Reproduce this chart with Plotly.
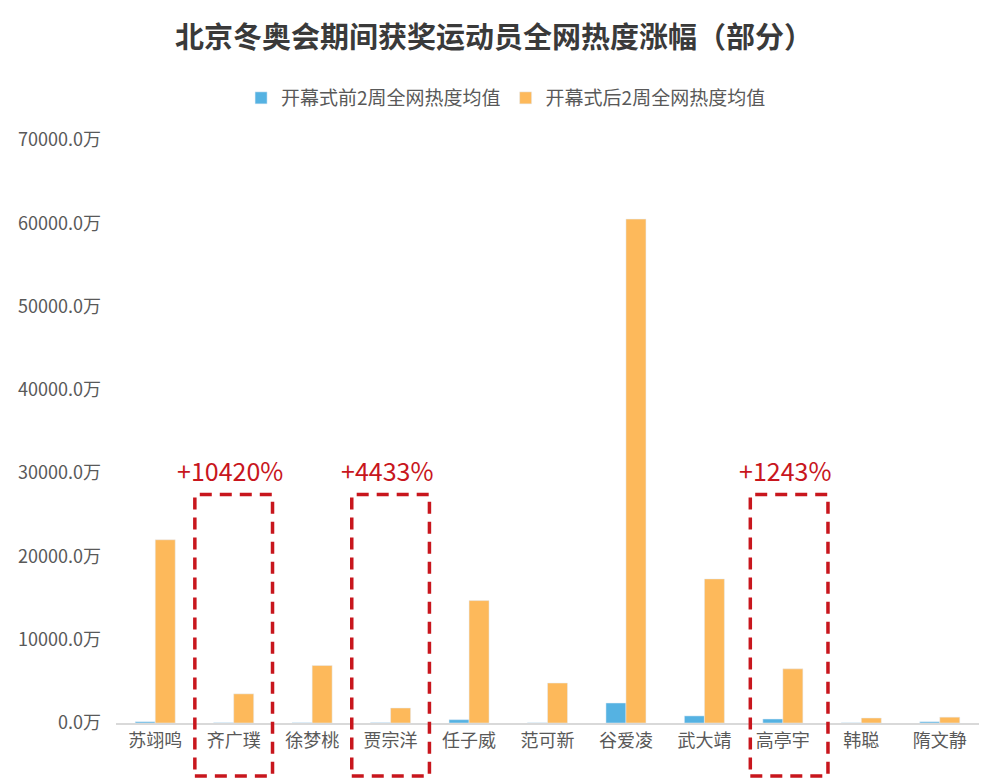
import plotly.graph_objects as go

athletes = ["苏翊鸣", "齐广璞", "徐梦桃", "贾宗洋", "任子威", "范可新", "谷爱凌", "武大靖", "高亭宇", "韩聪", "隋文静"]
before = [150, 33, 30, 40, 400, 20, 2400, 850, 480, 20, 150]
after = [22000, 3500, 6900, 1800, 14700, 4800, 60500, 17300, 6500, 600, 700]
series_names = ["开幕式前2周全网热度均值", "开幕式后2周全网热度均值"]
highlight_names = ["齐广璞", "贾宗洋", "高亭宇"]
highlight_labels = ["+10420%", "+4433%", "+1243%"]
y_ticks = [0, 10000, 20000, 30000, 40000, 50000, 60000, 70000]
y_ticktext = [f"{v:.1f}万" for v in y_ticks]

FONT = "Noto Sans CJK SC"
GRAY = "#595959"
RED = "#C8161D"

fig = go.Figure()
fig.add_trace(go.Bar(x=athletes, y=before, name=series_names[0], marker_color="#55B2E2"))
fig.add_trace(go.Bar(x=athletes, y=after, name=series_names[1], marker_color="#FDB95B"))

box_shift = [0.0, 0.0, 0.08]
shapes = []
annotations = []
for name, label, sh in zip(highlight_names, highlight_labels, box_shift):
    i = athletes.index(name) + sh
    shapes.append(dict(type="rect", xref="x", yref="paper", x0=i - 0.495, x1=i + 0.495,
                       y0=-0.091, y1=0.392, line=dict(color=RED, width=3.5, dash="12px,8px"),
                       fillcolor="rgba(0,0,0,0)", layer="above"))
    annotations.append(dict(x=i - 0.05, xref="x", y=0.434, yref="paper", text=label, showarrow=False,
                            font=dict(family=FONT, size=25, color=RED), yanchor="middle"))

fig.update_layout(
    width=1004, height=781,
    margin=dict(l=116, r=25, t=140, b=58),
    paper_bgcolor="white", plot_bgcolor="white",
    font=dict(family=FONT, color=GRAY, size=18),
    title=dict(text="<b>北京冬奥会期间获奖运动员全网热度涨幅（部分）</b>", x=0.492, xanchor="center",
               y=0.951, yanchor="middle", font=dict(family=FONT, size=29, color="#3A3A3A")),
    barmode="group", bargap=0.49, bargroupgap=0,
    legend=dict(orientation="h", x=0.452, xanchor="center", y=1.072, yanchor="middle",
                font=dict(family=FONT, size=19, color=GRAY), itemwidth=30, traceorder="normal"),
    shapes=shapes, annotations=annotations,
    showlegend=True,
)
fig.update_xaxes(showline=True, linecolor="#D9D9D9", linewidth=2, showgrid=False,
                 tickfont=dict(family=FONT, size=18, color=GRAY), ticks="", zeroline=False)
fig.update_yaxes(range=[0, 70000], tickmode="array", tickvals=y_ticks, ticktext=y_ticktext,
                 showgrid=False, zeroline=False, showline=False, ticklabelstandoff=14,
                 tickfont=dict(family=FONT, size=18, color=GRAY))

fig.write_html("out.html")
